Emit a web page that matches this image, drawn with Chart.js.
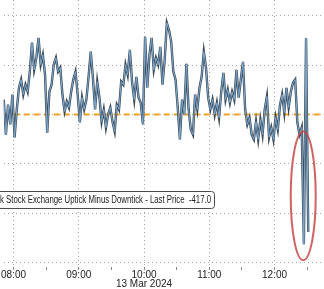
<!DOCTYPE html>
<html>
<head>
<meta charset="utf-8">
<script src="https://cdn.jsdelivr.net/npm/chart.js@4.4.1/dist/chart.umd.min.js"></script>
<style>
  html, body { margin: 0; padding: 0; background: #fff; }
  #wrap { width: 324px; height: 289px; position: relative; }
</style>
</head>
<body>
<div id="wrap"><canvas id="chart"></canvas></div>
<script>
// first point is 07:51 (minutes after midnight), one reading every 2 minutes
const startMin = 471;
const stepMin = 2;
const tickValues = [
  53, -71, 35, -35, 71, -81, 18, 95, 124, 71,
  106, 81, 152, 255, 159, 201, 272, 177, 212, 141,
  -64, 81, 106, 177, 201, 152, 166, 71, 11, 46,
  25, 81, 124, 152, 71, -28, 60, 18, 53, 134,
  223, 131, 18, 117, 60, -25, 18, -46, 0, 25,
  -25, -60, 35, 18, 117, 106, 177, 141, 230, 117,
  53, 134, 60, 42, -35, 276, 95, 212, 272, 159,
  201, 177, 240, 106, 194, 325, 300, 258, 152, 124,
  25, -88, 53, 0, 180, 18, -53, -71, 71, 18,
  95, 134, 223, 166, 60, 18, 53, 0, 42, -11,
  81, 148, 53, 88, 42, 81, 53, 159, 60, 124,
  187, 18, -35, -11, -71, -88, -25, -88, -18, -71,
  18, 64, -81, -46, -88, -11, -53, 32, 71, 7,
  95, 25, 81, 113, 124, -28, -71, -46, -460, 272,
  -417
];
const lastPrice = -417.0;
const avgLevel = 0;
const xTicks = [480, 510, 540, 570, 600, 630, 660, 690, 720, 750];
const hourLabels = { 480: '08:00', 540: '09:00', 600: '10:00', 660: '11:00', 720: '12:00' };
const dateLabel = '13 Mar 2024';
const yGrid = [-525, -350, -175, 0, 175, 350];
const seriesName = 'New York Stock Exchange Uptick Minus Downtick - Last Price';

const FONT = '"Liberation Sans", Arial, sans-serif';

const points = tickValues.map((v, i) => ({ x: startMin + i * stepMin, y: v }));
const lastX = startMin + (tickValues.length - 1) * stepMin;

// legend box + red ring round the drop
const overlay = {
  id: 'overlay',
  afterDatasetsDraw(chart) {
    const ctx = chart.ctx;
    const xs = chart.scales.x;
    const ys = chart.scales.y;
    ctx.save();
    ctx.font = '10px ' + FONT;
    const txt = seriesName + '  ' + lastPrice.toFixed(1);
    // squeeze text so "k Stock ..." starts at the left edge like the bloomberg crop
    const cut = ctx.measureText('New Yor').width;
    const full = ctx.measureText(txt).width;
    const right = 215, top = 191, h = 17;
    const textEnd = right - 4;
    const sx = textEnd / (full - cut);
    ctx.fillStyle = '#fff';
    ctx.strokeStyle = '#4a4a4a';
    ctx.lineWidth = 1;
    ctx.beginPath();
    ctx.roundRect(-10.5, top + 0.5, right + 10, h, 3);
    ctx.fill();
    ctx.stroke();
    ctx.fillStyle = '#222';
    ctx.textAlign = 'right';
    ctx.textBaseline = 'middle';
    ctx.translate(textEnd, top + h / 2 + 1);
    ctx.scale(sx, 1);
    ctx.fillText(txt, 0, 0);
    ctx.setTransform(1, 0, 0, 1, 0, 0);

    const cx = xs.getPixelForValue(lastX) - 5;
    const y0 = ys.getPixelForValue(-60);
    const y1 = ys.getPixelForValue(lastPrice - 100);
    ctx.strokeStyle = 'rgba(200, 70, 70, 0.85)';
    ctx.lineWidth = 2;
    ctx.beginPath();
    ctx.ellipse(cx, (y0 + y1) / 2, 12.5, (y1 - y0) / 2, 0, 0, Math.PI * 2);
    ctx.stroke();
    ctx.restore();
  }
};

new Chart(document.getElementById('chart'), {
  type: 'line',
  data: {
    datasets: [{
      // orange dashed reference level
      data: [{ x: startMin, y: avgLevel }, { x: 770, y: avgLevel }],
      borderColor: '#f0a020',
      borderWidth: 2,
      borderDash: [6, 4],
      pointRadius: 0,
      order: 3
    }, {
      data: points,
      borderColor: '#3c4a58',
      borderWidth: 2.4,
      pointRadius: 0,
      tension: 0,
      order: 2
    }, {
      data: points,
      borderColor: '#7eaad0',
      borderWidth: 1,
      pointRadius: 0,
      tension: 0,
      order: 1
    }]
  },
  options: {
    responsive: true,
    maintainAspectRatio: false,
    animation: false,
    layout: { padding: 0 },
    plugins: { legend: { display: false }, tooltip: { enabled: false } },
    scales: {
      x: {
        type: 'linear',
        min: 471,
        max: 765.5,
        afterBuildTicks: s => { s.ticks = xTicks.map(v => ({ value: v })); },
        border: { display: false, dash: [1, 3] },
        grid: {
          color: c => (c.tick && c.tick.value % 60 === 0) ? '#a8a8a8' : 'rgba(0,0,0,0)',
          tickColor: '#888',
          tickLength: 3,
          lineWidth: 1
        },
        ticks: {
          autoSkip: false,
          maxRotation: 0,
          padding: 1,
          color: '#222',
          font: { family: FONT, size: 10, lineHeight: 0.85 },
          callback: v => {
            if (v === 600) return [hourLabels[v], dateLabel];
            return hourLabels[v] || '';
          }
        }
      },
      y: {
        min: -541,
        max: 406.5,
        afterBuildTicks: s => { s.ticks = yGrid.map(v => ({ value: v })); },
        border: { display: false, dash: [1, 3] },
        grid: { color: '#a8a8a8', drawTicks: false, tickLength: 0 },
        ticks: { display: false, padding: 0 }
      }
    }
  },
  plugins: [overlay]
});
</script>
</body>
</html>
